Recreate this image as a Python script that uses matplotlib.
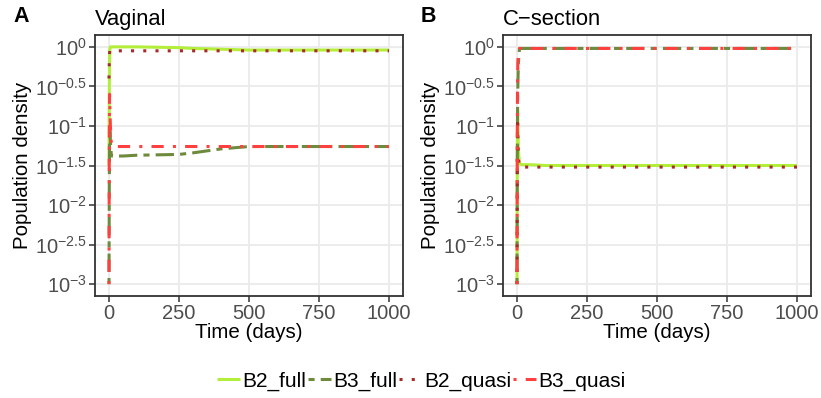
import matplotlib
matplotlib.use("Agg")
import matplotlib.pyplot as plt
import numpy as np

plt.rcParams['font.family'] = ['Liberation Sans', 'DejaVu Sans']
plt.rcParams['mathtext.fontset'] = 'custom'
plt.rcParams['mathtext.rm'] = 'Liberation Sans'
plt.rcParams['mathtext.it'] = 'Liberation Sans:italic'

# time points (days) and log10 population densities
t_vag = [0, 1, 2, 3, 5, 8, 10, 20, 50, 100, 250, 300, 400, 500, 600, 800, 1000]
vag_B2_full = [-1.5, -0.6, -0.15, -0.02, 0.0, 0.0, 0.0, 0.0, 0.0, 0.0, -0.01, -0.02, -0.03, -0.04, -0.04, -0.04, -0.04]
vag_B3_full = [-3.0, -1.8, -1.2, -1.0, -1.2, -1.35, -1.38, -1.38, -1.38, -1.37, -1.36, -1.34, -1.29, -1.26, -1.26, -1.26, -1.26]
vag_B2_quasi = [-0.4, -0.2, -0.08, -0.05, -0.05, -0.05, -0.05, -0.05, -0.05, -0.05, -0.05, -0.05, -0.05, -0.05, -0.05, -0.05, -0.05]
vag_B3_quasi = [-3.0, -1.2, -0.6, -0.75, -1.0, -1.2, -1.25, -1.26, -1.26, -1.26, -1.26, -1.26, -1.26, -1.26, -1.26, -1.26, -1.26]

t_cs = [0, 1, 2, 3, 5, 8, 10, 20, 50, 100, 250, 500, 750, 1000]
cs_B2_full = [-3.0, -1.5, -0.8, -1.0, -1.3, -1.45, -1.48, -1.49, -1.49, -1.5, -1.5, -1.5, -1.5, -1.5]
cs_B3_full = [-3.0, -1.5, -0.8, -0.5, -0.2, -0.05, -0.02, -0.02, -0.02, -0.02, -0.02, -0.02, -0.02, -0.02]
cs_B2_quasi = [-3.0, -1.6, -0.9, -1.1, -1.4, -1.5, -1.51, -1.52, -1.52, -1.52, -1.52, -1.52, -1.52, -1.52]
cs_B3_quasi = [-3.0, -1.2, -0.4, -0.2, -0.08, -0.02, -0.02, -0.02, -0.02, -0.02, -0.02, -0.02, -0.02, -0.02]

series = ['B2_full', 'B3_full', 'B2_quasi', 'B3_quasi']
colors = {'B2_full': '#B3EE3A', 'B3_full': '#6E8B3D', 'B2_quasi': '#A52A2A', 'B3_quasi': '#FF4040'}
dashes = {'B2_full': None, 'B3_full': (2, 2, 6, 2), 'B2_quasi': (1, 3), 'B3_quasi': (1, 3, 4, 3)}

yticks = [0, -0.5, -1, -1.5, -2, -2.5, -3]
ytick_labels = [r'$10^{0}$', r'$10^{-0.5}$', r'$10^{-1}$', r'$10^{-1.5}$',
                r'$10^{-2}$', r'$10^{-2.5}$', r'$10^{-3}$']
xticks = [0, 250, 500, 750, 1000]

W, H = 821, 398
fig = plt.figure(figsize=(W / 100, H / 100), dpi=100)


def panel(x0, t, data, letter, title):
    ax = fig.add_axes([x0 / W, 1 - 296 / H, 308 / W, 261 / H])
    for name in series:
        kw = dict(color=colors[name], lw=2.2, solid_capstyle='butt', dash_capstyle='butt')
        if dashes[name] is not None:
            kw['dashes'] = dashes[name]
        ax.plot(t, 10 ** np.array(data[name]), label=name, **kw)
    ax.set_yscale('log')
    ax.set_ylim(10 ** -3.15, 10 ** 0.15)
    ax.set_xlim(-50, 1050)
    ax.set_yticks([10 ** v for v in yticks])
    ax.set_yticklabels(ytick_labels)
    ax.yaxis.set_minor_locator(matplotlib.ticker.NullLocator())
    ax.set_xticks(xticks)
    ax.grid(True, color='#EBEBEB', lw=1.3)
    ax.set_axisbelow(True)
    for s in ax.spines.values():
        s.set_color('#333333')
        s.set_linewidth(1.3)
    ax.tick_params(colors='#333333', labelcolor='#4D4D4D', labelsize=14.5, length=4, width=1.1, pad=2)
    ax.set_xlabel('Time (days)', fontsize=14.8, labelpad=0)
    ax.set_ylabel('Population density', fontsize=14.8, labelpad=2)
    ax.set_title(title, fontsize=15.8, loc='left', pad=7)
    fig.text((x0 - 82) / W, 1 - 16 / H, letter, fontsize=15.5, fontweight='bold', va='center', ha='left')
    return ax


axA = panel(95, t_vag, {'B2_full': vag_B2_full, 'B3_full': vag_B3_full,
                        'B2_quasi': vag_B2_quasi, 'B3_quasi': vag_B3_quasi}, 'A', 'Vaginal')
axB = panel(503, t_cs, {'B2_full': cs_B2_full, 'B3_full': cs_B3_full,
                        'B2_quasi': cs_B2_quasi, 'B3_quasi': cs_B3_quasi}, 'B', 'C\u2212section')

handles, labels = axA.get_legend_handles_labels()
fig.legend(handles, labels, loc='center', bbox_to_anchor=(0.513, 1 - 381 / H), ncol=4,
           frameon=False, fontsize=15, handlelength=1.1, handletextpad=0.1,
           columnspacing=0.1)

fig.savefig('out.png', dpi=100)
